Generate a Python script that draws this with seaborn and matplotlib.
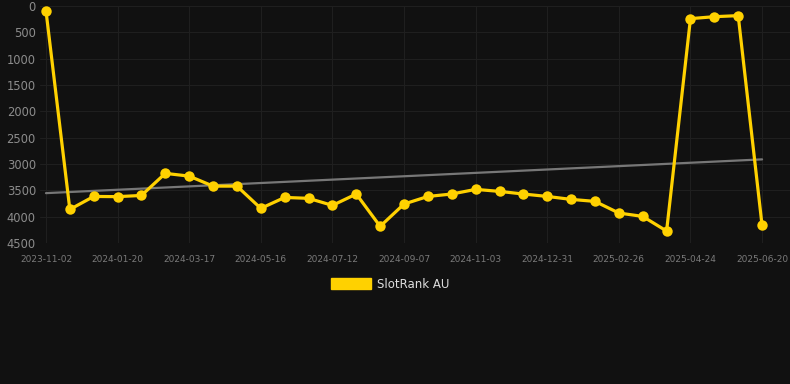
import matplotlib
matplotlib.use("Agg")
import matplotlib.pyplot as plt
import matplotlib.patches as mpatches
import numpy as np
import pandas as pd
import seaborn as sns

# rank per snapshot (lower is better, axis inverted)
ranks = [
    90, 3863, 3616, 3620, 3597, 3178, 3230, 3420, 3420, 3843,
    3635, 3652, 3786, 3570, 4184, 3760, 3616, 3570, 3482, 3520,
    3570, 3616, 3672, 3710, 3931, 3995, 4273, 240, 203, 183,
    4167,
]
tick_labels = [
    "2023-11-02", "2024-01-20", "2024-03-17", "2024-05-16", "2024-07-12",
    "2024-09-07", "2024-11-03", "2024-12-31", "2025-02-26", "2025-04-24",
    "2025-06-20",
]
series_name = "SlotRank AU"

BG = "#111111"
YELLOW = "#FFD100"

df = pd.DataFrame({"idx": np.arange(len(ranks)), "rank": ranks})

sns.set_style("dark")
plt.rcParams["font.family"] = ["DejaVu Sans"]

fig = plt.figure(figsize=(7.9, 3.84), dpi=100, facecolor=BG)
ax = fig.add_axes([40 / 790, 1 - 243 / 384, 750 / 790, 237 / 384])
ax.set_facecolor(BG)

sns.regplot(data=df, x="idx", y="rank", scatter=False, ci=None, ax=ax,
            line_kws={"color": "#777777", "linewidth": 1.6, "zorder": 2})
sns.lineplot(data=df, x="idx", y="rank", ax=ax, color=YELLOW, linewidth=2.3,
             marker="o", markersize=7.5, markeredgewidth=0, zorder=3)

ax.set_ylim(4500, 0)
ax.set_xlim(-0.25, 31.17)
ax.set_yticks(range(0, 4501, 500))
ax.set_xticks(range(0, len(ranks), 3))
ax.set_xticklabels(tick_labels)
ax.tick_params(axis="y", colors="#8c8c8c", labelsize=8.3, length=0, pad=3)
ax.tick_params(axis="x", colors="#7a7a7a", labelsize=6.5, length=0, pad=9)
ax.grid(True, color="#1f1f1f", linewidth=0.8)
ax.set_xlabel("")
ax.set_ylabel("")
for s in ax.spines.values():
    s.set_visible(False)

handle = mpatches.Patch(color=YELLOW, label=series_name)
fig.legend(handles=[handle], loc="center", bbox_to_anchor=(390 / 790, 1 - 284 / 384),
           frameon=False, fontsize=8.5, labelcolor="#dddddd",
           handlelength=3.4, handleheight=1.1, handletextpad=0.5)

fig.savefig("out.png", dpi=100, facecolor=BG)
